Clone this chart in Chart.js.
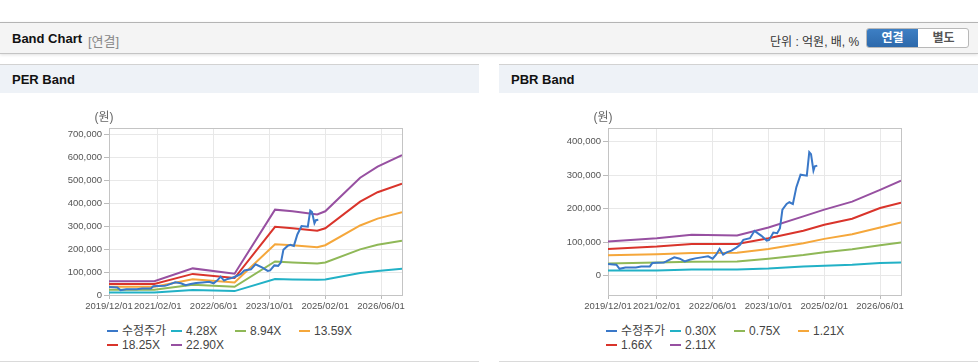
<!DOCTYPE html>
<html>
<head>
<meta charset="utf-8">
<script src="https://cdn.jsdelivr.net/npm/chart.js@4.4.1/dist/chart.umd.min.js"></script>
<style>
  body { margin: 0; width: 978px; height: 364px; overflow: hidden; background: #fff; position: relative;
         font-family: "Liberation Sans", Arial, "Noto Sans CJK KR", sans-serif; color: #222; }
  .topbar { position: absolute; left: 0; top: 22px; width: 978px; height: 30px; background: #f4f4f4;
            border-top: 1px solid #b4b4b4; border-bottom: 1px solid #c4c4c4; box-shadow: 0 1px 3px rgba(0,0,0,.12); }
  .topbar .title { position: absolute; left: 12px; top: 8px; font-size: 13px; font-weight: bold; color: #111; }
  .topbar .sub { position: absolute; left: 88px; top: 8px; font-size: 13px; color: #888; }
  .topbar .unit { position: absolute; left: 770px; top: 9px; font-size: 12px; color: #333; }
  .btns { position: absolute; left: 866px; top: 5px; width: 101px; height: 18px; border: 1px solid #b8b8b8; border-radius: 3px; overflow: hidden; background: #fff; }
  .btns span { position: absolute; top: 0; height: 18px; line-height: 18px; width: 51px; text-align: center; font-size: 12px; font-weight: bold; }
  .btns .on { left: 0; background: linear-gradient(#3d7fc4, #2d69ab); color: #fff; }
  .btns .off { left: 51px; color: #555; }
  .panel { position: absolute; top: 64px; width: 479px; height: 296px; border-top: 1px solid #d2d2d2; border-bottom: 1px solid #dadada; background: #fff; }
  .phead { height: 28px; background: #eef2f7; font-size: 13px; font-weight: bold; color: #111; line-height: 30px; padding-left: 12px; }
  .cwrap { position: absolute; left: 0; top: 28px; width: 479px; height: 222px; }
  .legend { position: absolute; left: 107px; top: 259px; width: 260px; display: flex; flex-wrap: wrap; font-size: 12px; color: #444; }
  .legend .item { width: 64px; height: 14px; line-height: 14px; white-space: nowrap; }
  .legend .sw { display: inline-block; width: 11px; height: 2px; vertical-align: middle; margin-right: 4px; position: relative; top: -1px; }
</style>
</head>
<body>
<div class="topbar">
  <span class="title">Band Chart</span><span class="sub">[연결]</span>
  <span class="unit">단위 : 억원, 배, %</span>
  <div class="btns"><span class="on">연결</span><span class="off">별도</span></div>
</div>

<div class="panel" style="left:0">
  <div class="phead">PER Band</div>
  <div class="cwrap"><canvas id="perChart" width="479" height="222"></canvas></div>
  <div class="legend" id="perLegend"></div>
</div>
<div class="panel" style="left:499px">
  <div class="phead">PBR Band</div>
  <div class="cwrap"><canvas id="pbrChart" width="479" height="222"></canvas></div>
  <div class="legend" id="pbrLegend"></div>
</div>

<script>
// months counted from 2019/12 (0) to 2026/12 (84)
const xTickMonths = [0, 14, 30, 46, 62, 78];
const xTickLabels = ['2019/12/01', '2021/02/01', '2022/06/01', '2023/10/01', '2025/02/01', '2026/06/01'];

// 수정주가 (adjusted price), same for both charts
const priceMonths = [0, 1.5, 2.4, 3.3, 5, 8, 9.5, 12, 12.7, 14, 16, 16.7, 19, 20.6, 22, 23.4, 25, 26.8, 28.7, 30,
  31, 32, 33, 34, 35.4, 36.8, 37.8, 38.8, 40.7, 42, 44, 45.5, 46.2, 47.4, 48.5, 49.3, 50, 51.2, 52, 53,
  54, 55.2, 57, 57.7, 58.2, 58.9, 59.3, 60];
const priceValues = [35000, 34000, 33000, 21000, 25000, 25000, 28000, 28000, 38000, 39000, 40000, 43000, 55000, 51000, 43000, 48000, 52000, 55000, 58000, 51000,
  63000, 80000, 63000, 70000, 75000, 84000, 92000, 107000, 112000, 134000, 119000, 105000, 107000, 129000, 127000, 142000, 197000, 214000, 219000, 214000,
  264000, 301000, 298000, 368000, 362000, 313000, 326000, 328000];

// PER band
const perLabels = ['4.28X', '8.94X', '13.59X', '18.25X', '22.90X'];
const perMonths = [0, 13, 24, 36, 47.6, 52.6, 59.7, 62, 72, 77, 84];
const per428 = [11000, 11000, 22000, 17000, 70000, 68000, 66000, 68000, 96000, 105000, 114000];
const per894 = [23000, 23000, 45000, 36000, 146000, 142000, 137000, 142000, 199000, 219000, 237000];
const per1359 = [36000, 36000, 69000, 55000, 221000, 217000, 208000, 217000, 303000, 333000, 361000];
const per1825 = [48000, 48000, 92000, 74000, 297000, 291000, 280000, 291000, 407000, 448000, 485000];
const per2290 = [60000, 60000, 116000, 93000, 372000, 365000, 351000, 365000, 511000, 560000, 610000];
const perYTicks = [0, 100000, 200000, 300000, 400000, 500000, 600000, 700000];

// PBR band
const pbrLabels = ['0.30X', '0.75X', '1.21X', '1.66X', '2.11X'];
const pbrMonths = [0, 14, 24, 37, 46, 56, 62, 70, 78, 84];
const pbr030 = [16000, 16000, 19000, 19000, 22000, 28000, 30000, 33000, 38000, 40000];
const pbr075 = [37000, 40000, 42000, 43000, 51000, 62000, 70000, 79000, 91000, 99000];
const pbr121 = [61000, 64000, 68000, 69000, 80000, 97000, 110000, 124000, 144000, 159000];
const pbr166 = [80000, 87000, 95000, 95000, 112000, 134000, 152000, 170000, 202000, 218000];
const pbr211 = [102000, 112000, 122000, 120000, 144000, 177000, 197000, 221000, 256000, 283000];
const pbrYTicks = [0, 100000, 200000, 300000, 400000];

const colors = ['#3a78c8', '#22b1c6', '#8fb857', '#f5a73b', '#d9342b', '#9750a1'];
const tickFont = { size: 9.5, family: '"Liberation Sans", Arial' };

function pts(xs, ys) {
  return xs.map((x, i) => ({ x: x, y: ys[i] }));
}

const frame = {
  id: 'frame',
  beforeDatasetsDraw(c) {
    const ctx = c.ctx, a = c.chartArea;
    ctx.save();
    ctx.strokeStyle = '#c4c4c4';
    ctx.lineWidth = 1;
    ctx.strokeRect(Math.round(a.left) + 0.5, Math.round(a.top) + 0.5, Math.round(a.right - a.left), Math.round(a.bottom - a.top));
    ctx.fillStyle = '#666';
    ctx.font = '12px "Liberation Sans", Arial, "Noto Sans CJK KR"';
    ctx.textAlign = 'center';
    ctx.fillText('(원)', a.left - 5, a.top - 7);
    ctx.restore();
  }
};

function makeChart(id, legendId, months, bands, labels, yMin, yMax, yTicks) {
  const datasets = [{ label: '수정주가', data: pts(priceMonths, priceValues) }];
  bands.forEach((b, i) => datasets.push({ label: labels[i], data: pts(months, b) }));
  datasets.forEach((d, i) => {
    d.borderColor = colors[i];
    d.backgroundColor = colors[i];
    d.borderWidth = 2;
    d.pointRadius = 0;
    d.tension = 0;
  });

  new Chart(document.getElementById(id), {
    type: 'line',
    data: { datasets: datasets },
    plugins: [frame],
    options: {
      responsive: false,
      animation: false,
      devicePixelRatio: 1,
      layout: { padding: { top: 35, right: 77, left: 0, bottom: 0 } },
      plugins: { legend: { display: false }, tooltip: { enabled: false } },
      scales: {
        x: {
          type: 'linear', min: 0, max: 84,
          afterBuildTicks: s => { s.ticks = xTickMonths.map(v => ({ value: v })); },
          afterFit: s => { s.height = 20; },
          grid: { color: '#e8e8e8', tickColor: '#bbb', tickLength: 4 },
          border: { display: false },
          ticks: {
            autoSkip: false, maxRotation: 0, padding: 2, color: '#555', font: tickFont,
            callback: v => xTickLabels[xTickMonths.indexOf(v)]
          }
        },
        y: {
          min: yMin, max: yMax,
          afterBuildTicks: s => { s.ticks = yTicks.map(v => ({ value: v })); },
          afterFit: s => { s.width = 109; },
          grid: { color: '#e8e8e8', tickColor: '#bbb', tickLength: 5 },
          border: { display: false },
          ticks: {
            padding: 2, color: '#555', font: tickFont,
            callback: v => v.toLocaleString('en-US')
          }
        }
      }
    }
  });

  const lg = document.getElementById(legendId);
  datasets.forEach(d => {
    const it = document.createElement('span');
    it.className = 'item';
    const sw = document.createElement('span');
    sw.className = 'sw';
    sw.style.background = d.borderColor;
    it.appendChild(sw);
    it.appendChild(document.createTextNode(d.label));
    lg.appendChild(it);
  });
}

makeChart('perChart', 'perLegend', perMonths, [per428, per894, per1359, per1825, per2290], perLabels, 0, 728000, perYTicks);
makeChart('pbrChart', 'pbrLegend', pbrMonths, [pbr030, pbr075, pbr121, pbr166, pbr211], pbrLabels, -57000, 440000, pbrYTicks);
</script>
</body>
</html>
